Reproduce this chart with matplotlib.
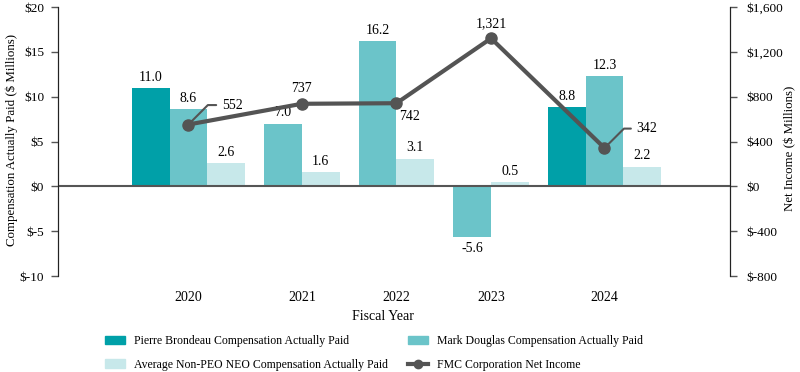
import numpy as np
import matplotlib.pyplot as plt
from matplotlib.lines import Line2D
from matplotlib.patches import Patch

plt.rcParams['font.family'] = ['Liberation Serif', 'DejaVu Serif']

# data
years = ['2020', '2021', '2022', '2023', '2024']
brondeau = [11.0, None, None, None, 8.8]
douglas = [8.6, 7.0, 16.2, -5.6, 12.3]
avg_neo = [2.6, 1.6, 3.1, 0.5, 2.2]
net_income = [552, 737, 742, 1321, 342]

series = [('Pierre Brondeau Compensation Actually Paid', brondeau, '#00A0A8'),
          ('Mark Douglas Compensation Actually Paid', douglas, '#6BC4C9'),
          ('Average Non-PEO NEO Compensation Actually Paid', avg_neo, '#C7E8EA')]
line_color = '#545454'

fig = plt.figure(figsize=(8, 3.72), dpi=100)
ax = fig.add_axes([0.0725, 0.258, 0.84, 0.723])
ax2 = ax.twinx()

# groups only hold the bars that exist for that year
bw = 1.0
gap = 0.51
pos = 0.0
centers = []
for i, yr in enumerate(years):
    start = pos
    for name, vals, col in series:
        v = vals[i]
        if v is None:
            continue
        ax.bar(pos + bw / 2, v, width=bw, color=col, edgecolor='none', zorder=2)
        if v >= 0:
            ax.annotate(f'{v:.1f}', (pos + bw / 2, v), xytext=(0, 3), textcoords='offset points',
                        ha='center', va='bottom', fontsize=10)
        else:
            ax.annotate(f'{v:.1f}', (pos + bw / 2, v), xytext=(0, -4), textcoords='offset points',
                        ha='center', va='top', fontsize=10)
        pos += bw
    centers.append((start + pos) / 2)
    pos += gap

ax.axhline(0, color='#555555', lw=1.5, zorder=3)
ax.set_xlim(-1.96, pos - gap + 1.83)
ax.set_ylim(-10, 20)
ax.set_yticks(range(-10, 21, 5))
ax.set_yticklabels([f'${v}' for v in range(-10, 21, 5)])
ax.set_xticks(centers)
ax.set_xticklabels(years)
ax.tick_params(axis='x', length=0, pad=11, labelsize=10)
ax.tick_params(axis='y', length=5, width=1, color='#555555', labelsize=9.5, pad=5)
ax.set_xlabel('Fiscal Year', fontsize=10, va='top')
ax.xaxis.set_label_coords(0.4836, -0.125)
ax.set_ylabel('Compensation Actually Paid ($ Millions)', fontsize=9.3)
ax.yaxis.set_label_coords(-0.0595, 0.506)

# net income line
ax2.plot(centers, net_income, color=line_color, lw=3, marker='o', ms=8, zorder=5)
ax2.set_ylim(-800, 1600)
r_ticks = list(range(-800, 1601, 400))
ax2.set_yticks(r_ticks)
ax2.set_yticklabels([f'${v:,}' for v in r_ticks])
ax2.tick_params(axis='y', length=5, width=1, color='#555555', labelsize=9.5, pad=7)
ax2.set_ylabel('Net Income ($ Millions)', fontsize=9.3)
ax2.yaxis.set_label_coords(1.080, 0.476)

for a in (ax, ax2):
    a.spines['top'].set_visible(False)
    a.spines['bottom'].set_visible(False)
    a.spines['left'].set_color('#222222')
    a.spines['right'].set_color('#222222')
    a.patch.set_visible(False)

lbl_kw = dict(textcoords='offset points', fontsize=10)
leader = dict(arrowstyle='-', color=line_color, lw=1.5,
              connectionstyle='angle,angleA=0,angleB=45,rad=0', shrinkA=2, shrinkB=0)
ax2.annotate(f'{net_income[0]:,}', (centers[0], net_income[0]), xytext=(24, 14),
             ha='left', va='center', arrowprops=leader, **lbl_kw)
ax2.annotate(f'{net_income[1]:,}', (centers[1], net_income[1]), xytext=(0, 6),
             ha='center', va='bottom', **lbl_kw)
ax2.annotate(f'{net_income[2]:,}', (centers[2], net_income[2]), xytext=(2, -5),
             ha='left', va='top', **lbl_kw)
ax2.annotate(f'{net_income[3]:,}', (centers[3], net_income[3]), xytext=(0, 6),
             ha='center', va='bottom', **lbl_kw)
ax2.annotate(f'{net_income[4]:,}', (centers[4], net_income[4]), xytext=(23, 14),
             ha='left', va='center', arrowprops=leader, **lbl_kw)

leg_kw = dict(loc='center left', frameon=False, fontsize=8.5, handlelength=1.7,
              labelspacing=0.95, handletextpad=0.75, borderpad=0, borderaxespad=0)
fig.legend(handles=[Patch(color=series[0][2], label=series[0][0]),
                    Patch(color=series[2][2], label=series[2][0])],
           bbox_to_anchor=(0.131, 0.051), **leg_kw)
fig.legend(handles=[Patch(color=series[1][2], label=series[1][0]),
                    Line2D([], [], color=line_color, lw=3, marker='o', ms=6,
                           label='FMC Corporation Net Income')],
           bbox_to_anchor=(0.51, 0.051), **leg_kw)

fig.savefig('out.png', dpi=100)
